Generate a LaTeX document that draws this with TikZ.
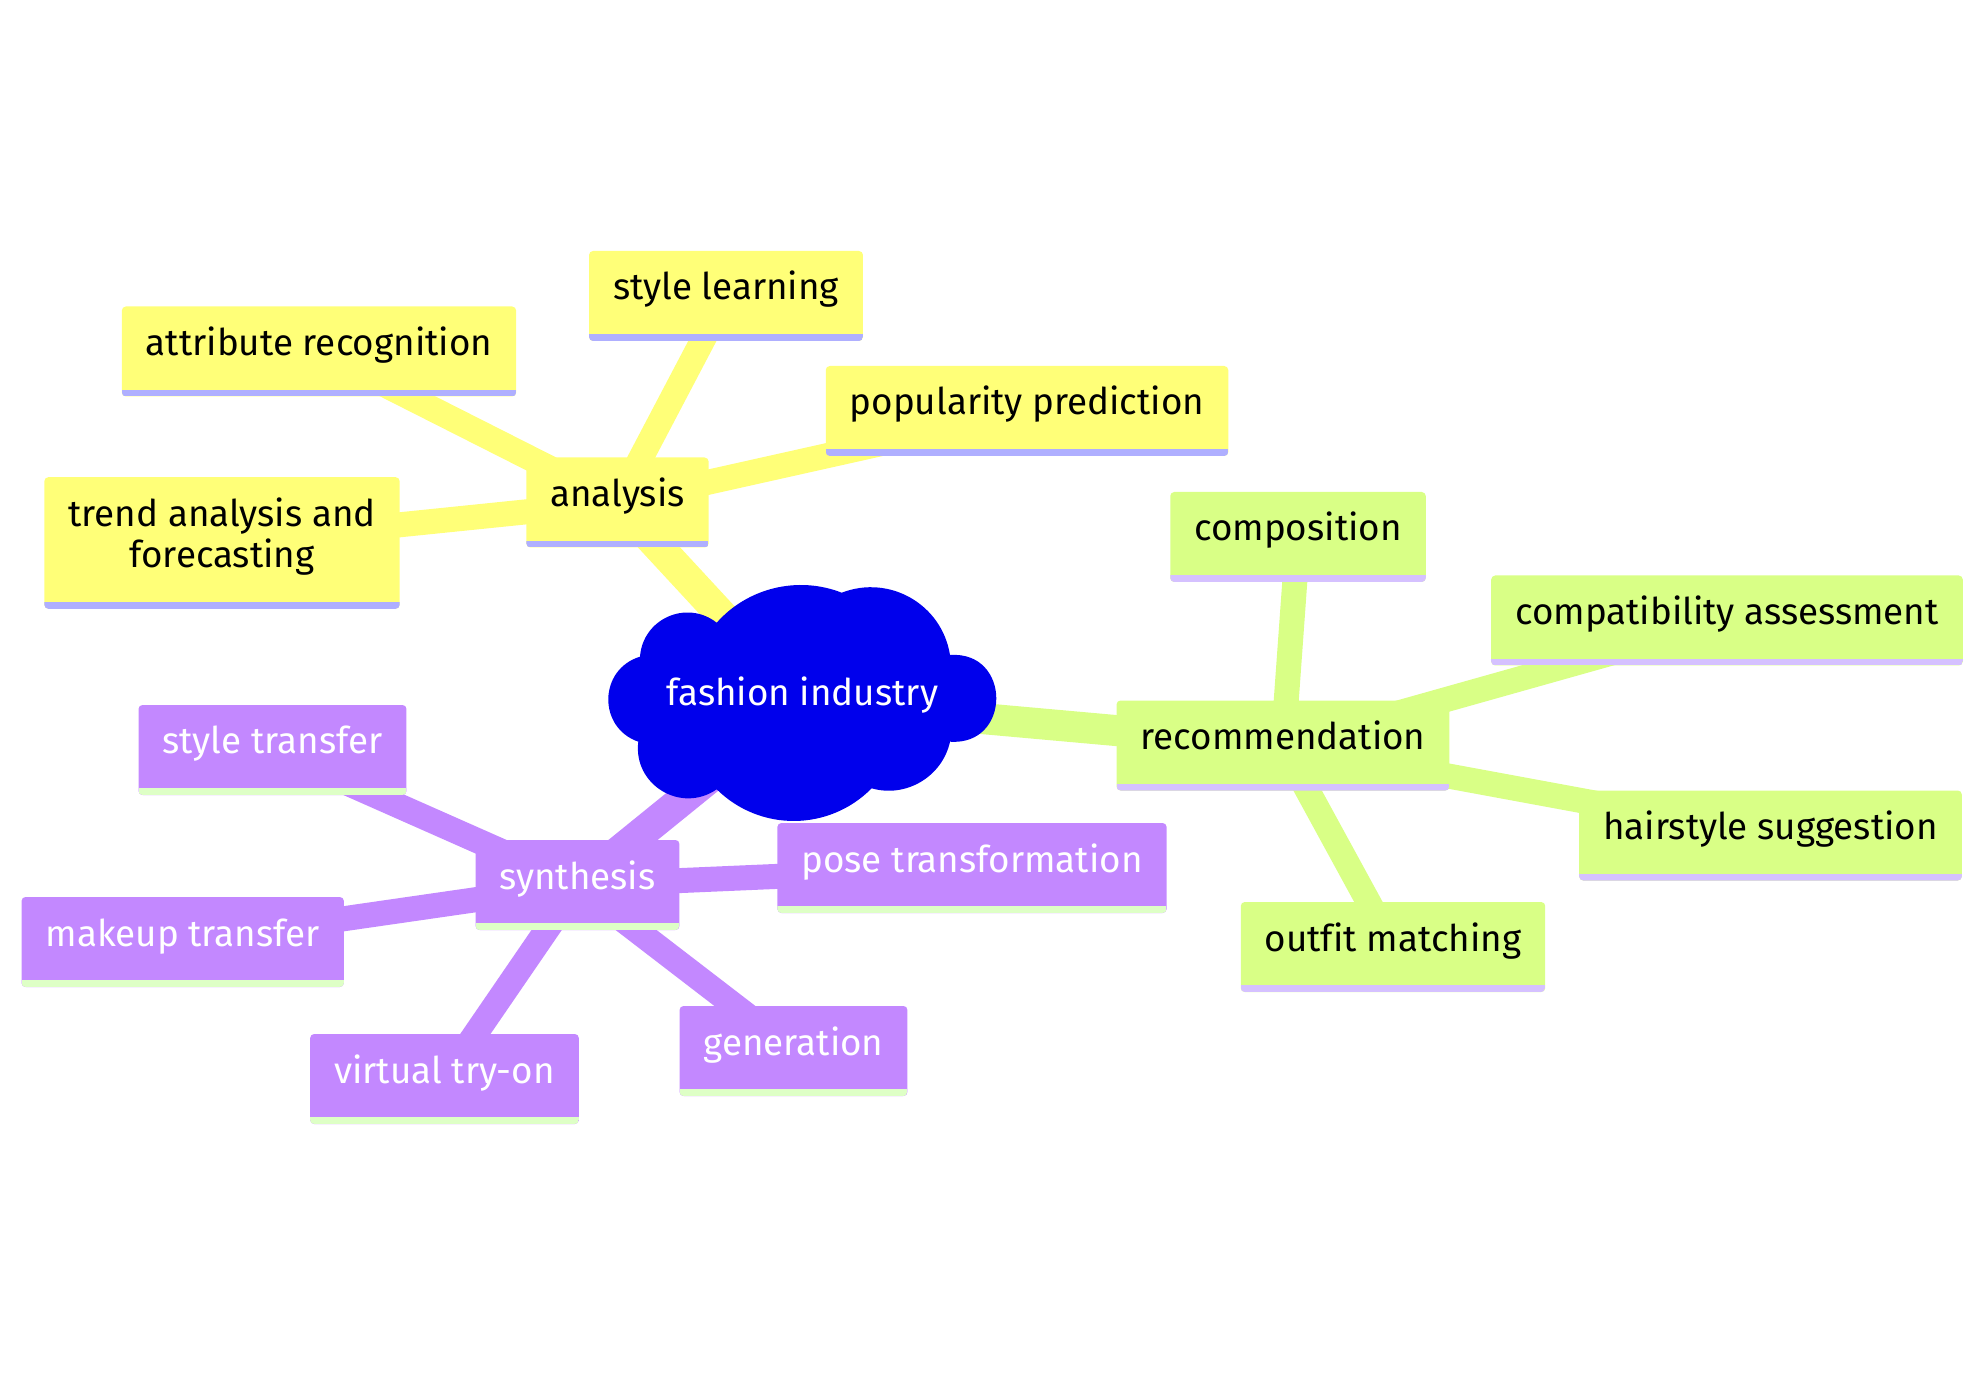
\documentclass[tikz,border=0pt]{standalone}
\usepackage{fontspec}
\setmainfont{Fira Sans}[Ligatures=NoCommon]
\usetikzlibrary{backgrounds}
\definecolor{anafill}{RGB}{255,255,120}
\definecolor{anabar}{RGB}{175,175,255}
\definecolor{recfill}{RGB}{217,255,134}
\definecolor{recbar}{RGB}{213,193,255}
\definecolor{synfill}{RGB}{195,136,255}
\definecolor{synbar}{RGB}{222,255,198}
\definecolor{rootblue}{RGB}{0,0,236}

\begin{document}
\begin{tikzpicture}[x=0.5pt,y=-0.5pt,
  box/.style={rounded corners=2pt, inner xsep=12pt, inner ysep=0pt, align=center,
    font=\fontsize{18.4}{20.8}\selectfont,
    execute at begin node={\rule{0pt}{24.5pt}},
    execute at end node={\rule[-20.5pt]{0pt}{20.5pt}}},
  ana/.style={box, fill=anafill, text=black,
    path picture={\fill[anabar, sharp corners] ([yshift=3.3pt]path picture bounding box.south west) rectangle (path picture bounding box.south east);}},
  rec/.style={box, fill=recfill, text=black,
    path picture={\fill[recbar, sharp corners] ([yshift=3.3pt]path picture bounding box.south west) rectangle (path picture bounding box.south east);}},
  syn/.style={box, fill=synfill, text=white,
    path picture={\fill[synbar, sharp corners] ([yshift=3.3pt]path picture bounding box.south west) rectangle (path picture bounding box.south east);}},
  trunk/.style={line width=15.5pt},
  twig/.style={line width=12.5pt}]
\useasboundingbox (0,0) rectangle (1983,1374);

% cloud
\fill[rootblue] (638.3,741.7) to[bend left=72, looseness=1.3] (640,656.7)
  to[bend left=62, looseness=1.16] (716.7,622.7)
  to[bend left=35, looseness=0.93] (841.7,592.7)
  to[bend left=51, looseness=1.05] (950,655)
  to[bend left=94, looseness=1.83] (950,741.7)
  to[bend left=47] (871.7,788.3)
  to[bend left=45] (716.7,789.3)
  to[bend left=66, looseness=1.21] (638.3,741.7) -- cycle;
\path (802.5,702.5) node[text=white, font=\fontsize{18.4}{20.8}\selectfont, text height=8pt, text depth=5.5pt](Fashion){fashion industry};

\path (617.5,502.5) node[ana](Analysis){analysis} (726,296) node[ana](StyleLearning){style learning} (319,351.5) node[ana](Attribute){attribute recognition} (1027,411) node[ana](Popularity){popularity prediction} (222,543) node[ana](Trend){\rule{0pt}{24.5pt}trend analysis and\\forecasting};

\path (1283,745.5) node[rec](Recommendation){recommendation} (1298,537) node[rec](Composition){composition} (1727,620.5) node[rec](Compatibility){compatibility assessment} (1770.5,835.5) node[rec](Hairstyle){hairstyle suggestion} (1393,947) node[rec](Outfit){outfit matching};

\path (577.5,885) node[syn](Synthesis){synthesis} (272.5,750) node[syn](StyleTransfer){style transfer} (182.7,942) node[syn](Makeup){makeup transfer} (444.5,1079) node[syn](TryOn){virtual try-on} (793.5,1051) node[syn](Generation){generation} (972,868) node[syn](Pose){pose transformation};

\begin{scope}[on background layer]
\draw[trunk, anafill] (Fashion.center) -- (Analysis.center);
\draw[twig, anafill] (Analysis.center) -- (StyleLearning.center);
\draw[twig, anafill] (Analysis.center) -- (Attribute.center);
\draw[twig, anafill] (Analysis.center) -- (Popularity.center);
\draw[twig, anafill] (Analysis.center) -- (Trend.center);
\draw[trunk, recfill] (Fashion.center) -- (Recommendation.center);
\draw[twig, recfill] (Recommendation.center) -- (Composition.center);
\draw[twig, recfill] (Recommendation.center) -- (Compatibility.center);
\draw[twig, recfill] (Recommendation.center) -- (Hairstyle.center);
\draw[twig, recfill] (Recommendation.center) -- (Outfit.center);
\draw[trunk, synfill] (Fashion.center) -- (Synthesis.center);
\draw[twig, synfill] (Synthesis.center) -- (StyleTransfer.center);
\draw[twig, synfill] (Synthesis.center) -- (Makeup.center);
\draw[twig, synfill] (Synthesis.center) -- (TryOn.center);
\draw[twig, synfill] (Synthesis.center) -- (Generation.center);
\draw[twig, synfill] (Synthesis.center) -- (Pose.center);
\end{scope}
\end{tikzpicture}
\end{document}
